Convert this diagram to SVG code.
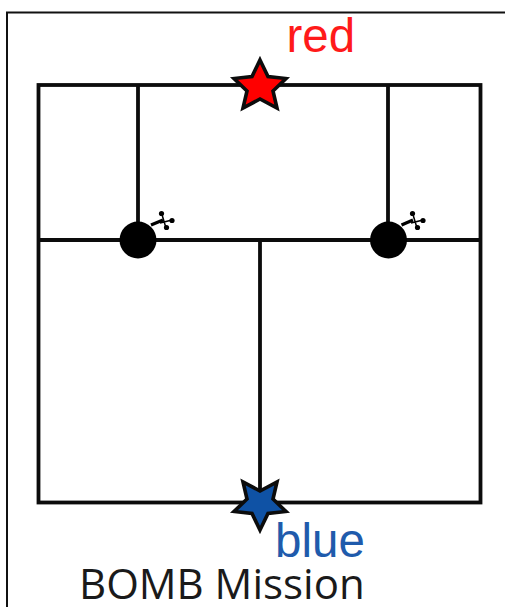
<svg xmlns="http://www.w3.org/2000/svg" width="505" height="607" viewBox="0 0 505 607">
<style>
.ln{fill:none;stroke:#0c0c0c;stroke-width:3.800}
.star{stroke:#0c0c0c;stroke-width:3.600;stroke-linejoin:miter;stroke-miterlimit:6}
.bomb{fill:#000}
.fuse{fill:none;stroke:#000;stroke-width:3.200}
.spark{fill:#000}
.spark-line{fill:none;stroke:#000;stroke-width:1.500}
text{font-family:"Liberation Sans",Arial,sans-serif;font-size:47.500px}
</style>
<rect width="505" height="607" fill="#fff"/>
<path id="frame" d="M510 12.500H7V612" fill="none" stroke="#111" stroke-width="2"/>
<g id="connectors">
<rect class="ln" x="38.500" y="85" width="442" height="417.500"/>
<path class="ln" d="M38.500 240H480.500M138 85V240M388 85V240M260 240V502"/>
</g>
<g id="bomb-left">
<circle class="bomb" cx="138" cy="240" r="18.500"/>
<path class="fuse" d="M151 225L163 220"/>
<path class="spark-line" d="M161.500 213L166 228M172 220L160 223"/>
<g class="spark"><circle cx="161.500" cy="213.500" r="2.600"/><circle cx="172" cy="220.500" r="2.600"/><circle cx="166.500" cy="227.500" r="2.600"/></g>
</g>
<g id="bomb-right">
<circle class="bomb" cx="388.500" cy="240" r="18.500"/>
<path class="fuse" d="M401.500 225L413 220"/>
<path class="spark-line" d="M412.500 213L417 228M423 220L411 223"/>
<g class="spark"><circle cx="412.500" cy="213.500" r="2.600"/><circle cx="423" cy="220.500" r="2.600"/><circle cx="417.500" cy="227.500" r="2.600"/></g>
</g>
<g id="red-star">
<polygon class="star" fill="#ff0000" points="260,60 268,76.500 286,78.500 273,91 277,108 260,99 243,108 247,91 234,78.500 252,76.500"/>
<text x="286.500" y="52" fill="#ff1a1a">red</text>
</g>
<g id="blue-star">
<polygon class="star" fill="#0f52a5" points="260,530 268,513.500 286,511.500 273,499 277,482 260,491 243,482 247,499 234,511.500 252,513.500"/>
<text x="275" y="556.500" fill="#1f5bac">blue</text>
</g>
<text id="title" x="79" y="599" style="font-family:'Open Sans','Liberation Sans',sans-serif;font-size:42px" fill="#1a1a1a">BOMB Mission</text>
</svg>
